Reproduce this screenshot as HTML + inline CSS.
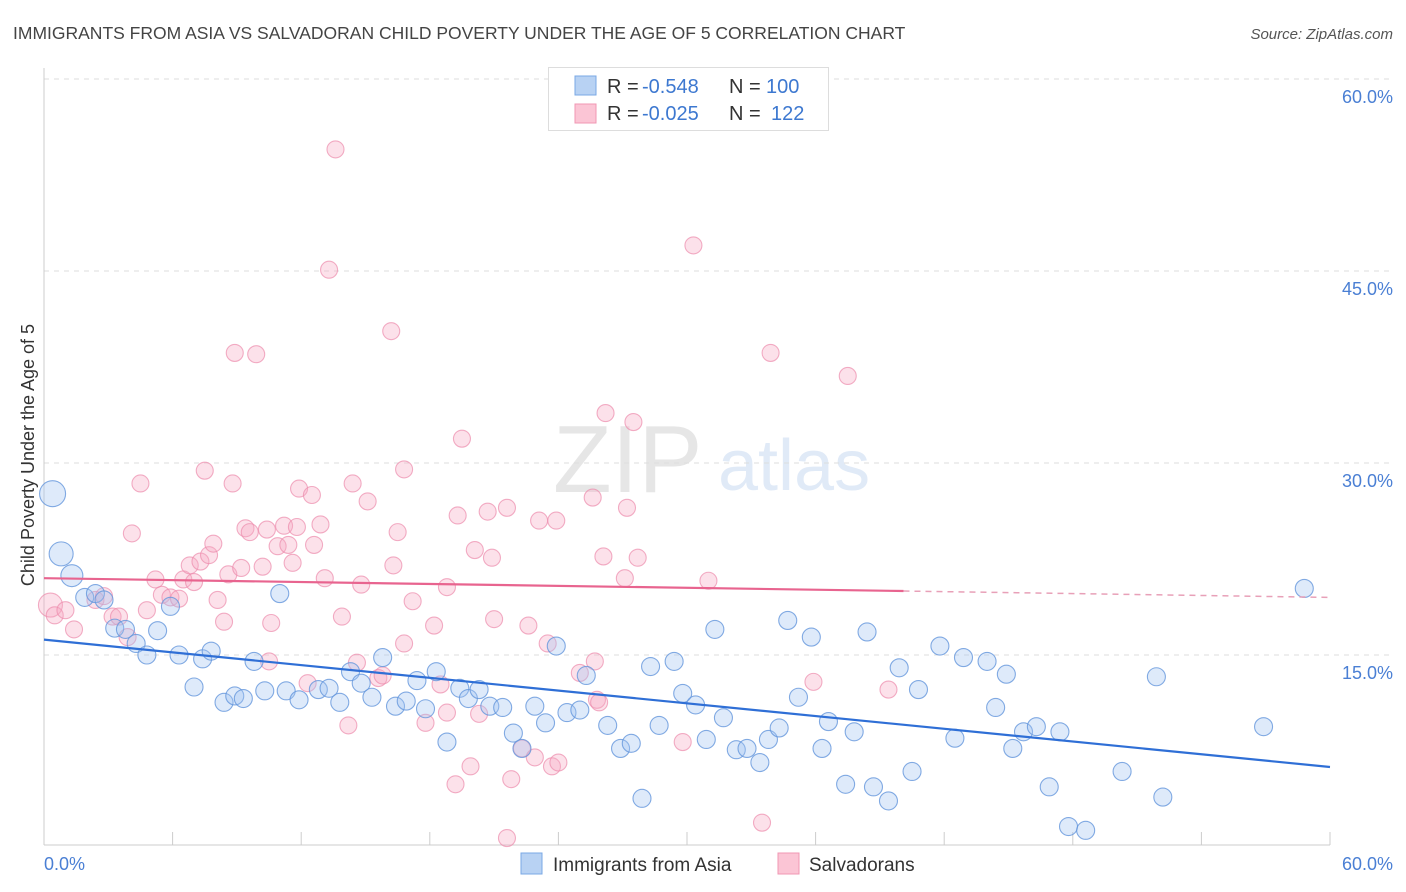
<!DOCTYPE html>
<html><head><meta charset="utf-8">
<style>
body{margin:0;background:#fff;font-family:"Liberation Sans",sans-serif;}
#wrap{position:relative;width:1406px;height:892px;overflow:hidden;}
svg text{font-family:"Liberation Sans",sans-serif;}
</style></head>
<body>
<div id="wrap">
<svg id="chart" width="1406" height="892">
  <text x="13" y="39" font-size="17.5" fill="#444">IMMIGRANTS FROM ASIA VS SALVADORAN CHILD POVERTY UNDER THE AGE OF 5 CORRELATION CHART</text>
  <text x="1393" y="39" font-size="15" fill="#555" font-style="italic" text-anchor="end">Source: ZipAtlas.com</text>
  <g opacity="0.18">
    <text x="553" y="492" font-size="96" font-family="Liberation Serif, serif" fill="#777">ZIP</text>
    <text x="718" y="490" font-size="72" fill="#5b8fd6">atlas</text>
  </g>
  <g id="grid"></g>
  <g id="axes"></g>
  <g id="pts"></g>
  <g id="trends"></g>
  <text transform="translate(34,455) rotate(-90)" font-size="18" fill="#333" text-anchor="middle">Child Poverty Under the Age of 5</text>
  <g>
    <rect x="548.5" y="67.5" width="280" height="63" fill="#fff" stroke="#ddd"/>
    <rect x="575" y="76" width="21" height="19" fill="#b8d2f3" stroke="#7aa8e4"/>
    <rect x="575" y="104" width="21" height="19" fill="#fbc5d5" stroke="#f097b3"/>
    <text x="607" y="93" font-size="20" fill="#333">R = <tspan x="642" fill="#3d78d0">-0.548</tspan><tspan x="729">N = </tspan><tspan x="766" fill="#3d78d0">100</tspan></text>
    <text x="607" y="120" font-size="20" fill="#333">R = <tspan x="642" fill="#3d78d0">-0.025</tspan><tspan x="729">N = </tspan><tspan fill="#3d78d0" x="771">122</tspan></text>
  </g>
  <g>
    <rect x="521" y="853" width="21" height="21" fill="#b8d2f3" stroke="#7aa8e4"/>
    <text x="553" y="871" font-size="19" fill="#333">Immigrants from Asia</text>
    <rect x="778" y="853" width="21" height="21" fill="#fbc5d5" stroke="#f097b3"/>
    <text x="809" y="871" font-size="19" fill="#333">Salvadorans</text>
  </g>
</svg>
</div>
<script>
const yTicks=[15,30,45,60];
const xTickVals=[0,6,12,18,24,30,36,42,48,54,60];
const blueX=[0.4,0.8,1.3,1.9,2.4,2.8,3.3,3.8,4.3,4.8,5.3,5.9,6.3,7.0,7.4,7.8,8.4,8.9,9.3,9.8,10.3,11.0,11.3,11.9,12.8,13.3,13.8,14.3,14.8,15.3,15.8,16.4,16.9,17.4,17.8,18.3,18.8,19.4,19.8,20.3,20.8,21.4,21.9,22.3,22.9,23.4,23.9,24.4,25.0,25.3,26.3,26.9,27.4,27.9,28.3,28.7,29.4,29.8,30.4,30.9,31.3,31.7,32.3,32.8,33.4,33.8,34.3,34.7,35.2,35.8,36.3,36.6,37.4,37.8,38.4,38.7,39.4,39.9,40.5,40.8,41.8,42.5,42.9,44.0,44.4,44.9,45.2,45.7,46.3,46.9,47.4,47.8,48.6,50.3,51.9,52.2,56.9,58.8];
const blueY=[27.6,22.9,21.2,19.5,19.8,19.3,17.1,17.0,15.9,15.0,16.9,18.8,15.0,12.5,14.7,15.3,11.3,11.8,11.6,14.5,12.2,19.8,12.2,11.5,12.3,12.4,11.3,13.7,12.8,11.7,14.8,11.0,11.4,13.0,10.8,13.7,8.2,12.4,11.6,12.3,11.0,10.9,8.9,7.7,11.0,9.7,15.7,10.5,10.7,13.4,9.5,7.7,8.1,3.8,14.1,9.5,14.5,12.0,11.1,8.4,17.0,10.1,7.6,7.7,6.6,8.4,9.3,17.7,11.7,16.4,7.7,9.8,4.9,9.0,16.8,4.7,3.6,14.0,5.9,12.3,15.7,8.5,14.8,14.5,10.9,13.5,7.7,9.0,9.4,4.7,9.0,1.6,1.3,5.9,13.3,3.9,9.4,20.2];
const blueSize=[13,12,11,9,9,9,9,9,9,9,9,9,9,9,9,9,9,9,9,9,9,9,9,9,9,9,9,9,9,9,9,9,9,9,9,9,9,9,9,9,9,9,9,9,9,9,9,9,9,9,9,9,9,9,9,9,9,9,9,9,9,9,9,9,9,9,9,9,9,9,9,9,9,9,9,9,9,9,9,9,9,9,9,9,9,9,9,9,9,9,9,9,9,9,9,9,9,9];
const pinkX=[0.3,0.5,1.0,1.4,2.4,2.8,3.2,3.5,3.9,4.1,4.5,4.8,5.2,5.5,5.9,6.3,6.5,6.8,7.0,7.3,7.5,7.7,7.9,8.1,8.4,8.6,8.8,8.9,9.2,9.4,9.6,9.9,10.2,10.4,10.6,10.5,10.9,11.2,11.4,11.6,11.8,11.9,12.3,12.5,12.6,12.9,13.1,13.3,13.6,13.9,14.2,14.4,14.6,14.8,15.1,15.6,15.8,16.2,16.3,16.5,16.8,16.8,17.2,17.8,18.2,18.5,18.8,18.8,19.2,19.3,19.5,19.9,20.1,20.3,20.7,20.9,21.0,21.6,21.8,22.3,22.6,22.9,23.1,23.5,23.7,23.9,24.0,25.0,25.6,25.8,25.9,25.7,26.1,26.2,27.1,27.2,27.5,27.7,29.8,30.3,31.0,33.5,33.9,35.9,37.5,39.4,21.6];
const pinkY=[18.9,18.1,18.5,17.0,19.3,19.6,18.0,18.0,16.4,24.5,28.4,18.5,20.9,19.7,19.5,19.4,20.9,22.0,20.7,22.3,29.4,22.8,23.7,19.3,17.6,21.3,28.4,38.6,21.8,24.9,24.6,38.5,21.9,24.8,17.5,14.5,23.5,25.1,23.6,22.2,25.0,28.0,12.8,27.5,23.6,25.2,21.0,45.1,54.5,18.0,9.5,28.4,14.4,20.5,27.0,13.2,13.4,40.3,22.0,24.6,29.5,15.9,19.2,9.7,17.3,12.7,10.5,20.3,4.9,25.9,31.9,6.3,23.2,10.4,26.2,22.6,17.8,26.5,5.3,7.7,17.3,7.0,25.5,15.9,6.3,25.5,6.6,13.6,27.3,11.5,11.3,14.5,22.7,33.9,21.0,26.5,33.2,22.6,8.2,47.0,20.8,1.9,38.6,12.9,36.8,12.3,0.7];
const blueTrend=[16.2,6.25];
const pinkTrend=[21.0,19.5];
const pinkSolidEnd=40.1;

const NS='http://www.w3.org/2000/svg';
const X0=44,X1=1330,Y0=847,YPER=12.8;
const sx=v=>X0+(v/60)*(X1-X0);
const sy=v=>Y0-v*YPER;
function mk(tag,attrs,parent){const e=document.createElementNS(NS,tag);for(const k in attrs)e.setAttribute(k,attrs[k]);parent.appendChild(e);return e;}
const grid=document.getElementById('grid'),axes=document.getElementById('axes'),pts=document.getElementById('pts'),tr=document.getElementById('trends');
yTicks.forEach(t=>{
  const l=mk('line',{x1:X0,x2:1393,y1:sy(t),y2:sy(t),stroke:'#ddd','stroke-dasharray':'5,5'},grid);
  
  
  const tx=mk('text',{x:1393,y:sy(t)+24,'font-size':18,fill:'#4a7fd4','text-anchor':'end'},axes);
  tx.textContent=t.toFixed(1)+'%';
  
  
});
const ax=mk('line',{x1:X0,x2:X1,y1:845,y2:845,stroke:'#ccc'},axes);


const ay=mk('line',{x1:X0,x2:X0,y1:68,y2:845,stroke:'#ccc'},axes);


xTickVals.forEach(t=>{
  const l=mk('line',{x1:sx(t),x2:sx(t),y1:832,y2:845,stroke:'#ccc'},axes);
  
  
});
const xl0=mk('text',{x:44,y:870,'font-size':18,fill:'#4a7fd4'},axes);xl0.textContent='0.0%';


const xl1=mk('text',{x:1393,y:870,'font-size':18,fill:'#4a7fd4','text-anchor':'end'},axes);xl1.textContent='60.0%';



pinkX.forEach((x,i)=>{
  const c=mk('circle',{cx:sx(x),cy:sy(pinkY[i]),r:i==0?12:8.5,fill:'rgba(246,170,195,0.35)',stroke:'rgba(236,140,172,0.7)','stroke-width':1.1},pts);
  
  
});
blueX.forEach((x,i)=>{
  const c=mk('circle',{cx:sx(x),cy:sy(blueY[i]),r:blueSize[i],fill:'rgba(160,196,240,0.35)',stroke:'rgba(100,150,220,0.8)','stroke-width':1.1},pts);
  
  
});
const bl=mk('line',{x1:sx(0),y1:sy(blueTrend[0]),x2:sx(60),y2:sy(blueTrend[1]),stroke:'#2f6fd6','stroke-width':2.2},tr);


const pAt=v=>pinkTrend[0]+(pinkTrend[1]-pinkTrend[0])*v/60;
const pl=mk('line',{x1:sx(0),y1:sy(pinkTrend[0]),x2:sx(pinkSolidEnd),y2:sy(pAt(pinkSolidEnd)),stroke:'#e8648f','stroke-width':2.2},tr);


const pd=mk('line',{x1:sx(pinkSolidEnd),y1:sy(pAt(pinkSolidEnd)),x2:sx(60),y2:sy(pinkTrend[1]),stroke:'#e8a0b8','stroke-width':1.5,'stroke-dasharray':'6,5'},tr);


</script>
</body></html>
